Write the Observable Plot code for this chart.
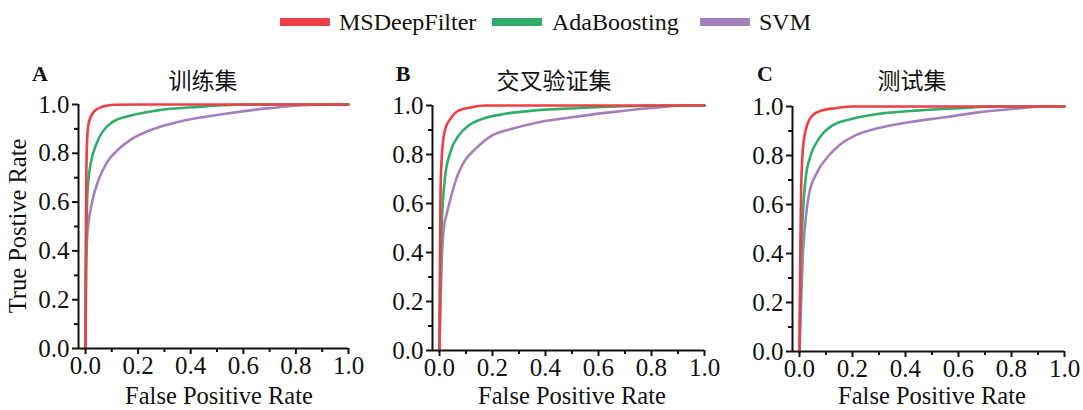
<!DOCTYPE html>
<html>
<head>
<meta charset="utf-8">
<script src="https://cdn.jsdelivr.net/npm/d3@7"></script>
<script src="https://cdn.jsdelivr.net/npm/@observablehq/plot@0.6"></script>
<style>
  html, body { margin: 0; padding: 0; background: #fff; }
  #root { position: relative; width: 1083px; height: 410px; overflow: hidden; font-family: 'Liberation Serif', 'Times New Roman', serif; color: #111; }
  .abs { position: absolute; white-space: nowrap; transform: translate(-50%, -50%); }
  .panel { position: absolute; top: 0; }
  .sw { position: absolute; height: 8px; }
  .lg { position: absolute; font-family: 'Liberation Serif', 'Times New Roman', serif; font-size: 24px; line-height: 24px; top: 10px; }
  .letter { font-family: 'Liberation Serif', serif; font-weight: bold; font-size: 22px; }
  .title { font-family: 'Noto Sans CJK SC', sans-serif; font-size: 23px; }
  .axt { font-family: 'Liberation Serif', serif; font-size: 24.5px; }
</style>
</head>
<body>
<div id="root"></div>
<script>
// ---- data ----
const seriesNames = ["MSDeepFilter", "AdaBoosting", "SVM"];
const seriesColors = ["#ee3f46", "#2fae6a", "#a47fbe"];
const panelLetters = ["A", "B", "C"];
const panelTitles = ["训练集", "交叉验证集", "测试集"];
const xTicks = [0, 0.2, 0.4, 0.6, 0.8, 1.0];
const minorTicks = [0.1, 0.3, 0.5, 0.7, 0.9];

// [FPR, TPR] pairs
const trainMSDeepFilter = [[0,0],[0.001,0.4],[0.003,0.7],[0.006,0.85],[0.01,0.91],[0.018,0.945],[0.028,0.965],[0.04,0.978],[0.057,0.988],[0.08,0.995],[0.11,0.999],[0.2,1],[1,1]];
const trainAdaBoosting = [[0,0],[0.002,0.3],[0.004,0.49],[0.007,0.63],[0.012,0.7],[0.02,0.76],[0.039,0.832],[0.064,0.887],[0.102,0.928],[0.172,0.955],[0.274,0.976],[0.426,0.99],[0.578,0.999],[0.7,1],[1,1]];
const trainSVM = [[0,0],[0.002,0.3],[0.006,0.45],[0.012,0.52],[0.025,0.6],[0.051,0.695],[0.082,0.763],[0.127,0.818],[0.177,0.859],[0.26,0.9],[0.374,0.934],[0.526,0.961],[0.70,0.985],[0.85,0.998],[1,1]];

const cvMSDeepFilter = [[0,0],[0.002,0.4],[0.004,0.65],[0.0075,0.77],[0.013,0.85],[0.022,0.905],[0.041,0.945],[0.073,0.98],[0.123,0.993],[0.173,1],[1,1]];
const cvAdaBoosting = [[0,0],[0.003,0.3],[0.0075,0.497],[0.013,0.61],[0.02,0.70],[0.041,0.81],[0.073,0.878],[0.11,0.918],[0.161,0.945],[0.249,0.966],[0.362,0.98],[0.513,0.989],[0.70,0.997],[0.85,1],[1,1]];
const cvSVM = [[0,0],[0.004,0.2],[0.009,0.38],[0.016,0.497],[0.029,0.565],[0.048,0.646],[0.07,0.72],[0.092,0.769],[0.136,0.823],[0.199,0.878],[0.274,0.905],[0.375,0.932],[0.5,0.952],[0.65,0.973],[0.8,0.99],[0.92,1],[1,1]];

const testMSDeepFilter = [[0,0],[0.003,0.4],[0.006,0.65],[0.01,0.78],[0.016,0.86],[0.025,0.909],[0.048,0.963],[0.085,0.984],[0.136,0.993],[0.2,1],[1,1]];
const testAdaBoosting = [[0,0],[0.004,0.3],[0.01,0.5],[0.016,0.62],[0.023,0.705],[0.042,0.8],[0.073,0.868],[0.123,0.922],[0.2,0.95],[0.3,0.97],[0.45,0.984],[0.6,0.993],[0.75,1],[1,1]];
const testSVM = [[0,0],[0.006,0.2],[0.012,0.38],[0.02,0.5],[0.035,0.637],[0.067,0.732],[0.111,0.8],[0.148,0.84],[0.211,0.882],[0.287,0.909],[0.413,0.936],[0.55,0.956],[0.68,0.977],[0.8,0.99],[0.92,1],[1,1]];

const panelData = [
  [trainMSDeepFilter, trainAdaBoosting, trainSVM],
  [cvMSDeepFilter, cvAdaBoosting, cvSVM],
  [testMSDeepFilter, testAdaBoosting, testSVM]
];

// ---- layout ----
const root = document.getElementById("root");
const layouts = [
  {left: 0,   width: 360, mL: 78, mR: 12, mT: 104, mB: 62, xmin: -0.0266},
  {left: 360, width: 360, mL: 72, mR: 16, mT: 105, mB: 60, xmin: -0.0264},
  {left: 720, width: 363, mL: 72, mR: 19, mT: 106, mB: 59, xmin: -0.0264}
];

function addText(txt, x, y, cls, extra) {
  const d = document.createElement("div");
  d.className = "abs " + (cls || "");
  d.textContent = txt;
  d.style.left = x + "px";
  d.style.top = y + "px";
  if (extra) Object.assign(d.style, extra);
  root.appendChild(d);
  return d;
}

// legend
const legendPos = [[280, 339], [492, 552], [700, 759]];
seriesNames.forEach((name, i) => {
  const sw = document.createElement("div");
  sw.className = "sw";
  sw.style.left = legendPos[i][0] + "px";
  sw.style.top = "18px";
  sw.style.width = "50px";
  sw.style.background = seriesColors[i];
  root.appendChild(sw);
  const t = document.createElement("div");
  t.className = "lg";
  t.style.left = legendPos[i][1] + "px";
  t.textContent = name;
  root.appendChild(t);
});

const fmt = d3.format(".1f");
const serif = "'Liberation Serif', 'Times New Roman', serif";

layouts.forEach((L, p) => {
  const rows = [];
  panelData[p].forEach((arr, s) => arr.forEach(([fpr, tpr]) => rows.push({fpr, tpr, series: seriesNames[s]})));
  const order = [2, 1, 0]; // draw SVM, AdaBoosting, then MSDeepFilter on top
  const lineMarks = order.map(s => Plot.line(rows.filter(r => r.series === seriesNames[s]), {
    x: "fpr", y: "tpr", stroke: seriesColors[s], strokeWidth: 2.6, curve: "monotone-x"
  }));
  const chart = Plot.plot({
    width: L.width,
    height: 410,
    marginLeft: L.mL, marginRight: L.mR, marginTop: L.mT, marginBottom: L.mB,
    x: {domain: [L.xmin, 1], label: null},
    y: {domain: [0, 1], label: null},
    style: {fontFamily: serif, fontSize: "25px", background: "transparent", color: "#111", overflow: "visible"},
    marks: [
      ...lineMarks,
      Plot.ruleY([0], {stroke: "#111", strokeWidth: 2}),
      Plot.ruleX([L.xmin], {stroke: "#111", strokeWidth: 2}),
      Plot.axisX({ticks: xTicks, tickSize: 6, tickPadding: 2, tickFormat: fmt, strokeWidth: 2, label: null, fontSize: 25}),
      Plot.axisX({ticks: minorTicks, tickSize: 4, tickFormat: () => "", strokeWidth: 2, label: null}),
      Plot.axisY({ticks: xTicks, tickSize: 6, tickPadding: 3, tickFormat: fmt, strokeWidth: 2, label: null, fontSize: 25}),
      Plot.axisY({ticks: minorTicks, tickSize: 4, tickFormat: () => "", strokeWidth: 2, label: null})
    ]
  });
  const svg = chart.tagName.toLowerCase() === "svg" ? chart : chart.querySelector("svg");
  svg.setAttribute("font-family", serif);
  svg.setAttribute("font-size", "25");
  chart.querySelectorAll("g").forEach(g => {
    if (g.hasAttribute("font-size")) g.setAttribute("font-size", "25");
    if (g.hasAttribute("font-family")) g.setAttribute("font-family", serif);
  });
  chart.querySelectorAll("text").forEach(t => {
    t.setAttribute("font-size", "25");
    t.setAttribute("font-family", serif);
    t.style.fontSize = "25px";
    t.style.fontFamily = serif;
  });
  chart.classList.add("panel");
  chart.style.left = L.left + "px";
  chart.style.position = "absolute";
  root.appendChild(chart);
});

// panel letters and titles
addText(panelLetters[0], 40, 74, "letter");
addText(panelLetters[1], 403, 74, "letter");
addText(panelLetters[2], 765, 74, "letter");
addText(panelTitles[0], 203, 79, "title");
addText(panelTitles[1], 554, 79, "title");
addText(panelTitles[2], 912, 79, "title");

// axis titles
addText("False Positive Rate", 219, 396, "axt");
addText("False Positive Rate", 572, 396, "axt");
addText("False Positive Rate", 932, 396, "axt");
addText("True Postive Rate", 18, 226, "axt", {transform: "translate(-50%, -50%) rotate(-90deg)"});
</script>
</body>
</html>
